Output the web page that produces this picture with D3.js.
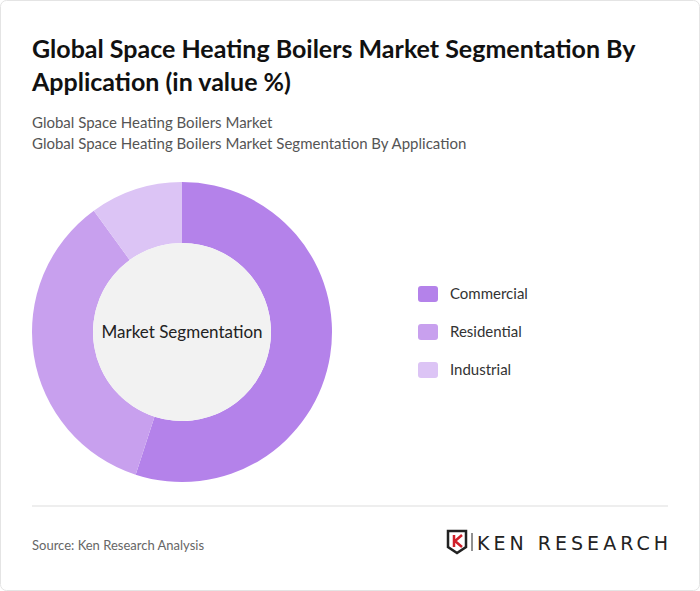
<!DOCTYPE html><html><head><meta charset="utf-8"><script src="https://cdn.jsdelivr.net/npm/d3@7"></script>
<style>body{margin:0;background:#fff;font-family:Lato,sans-serif}</style></head><body><svg id="c" width="700" height="591"></svg>
<script>
const categories=["Commercial","Residential","Industrial"];
const values=[55,35,10];
const colors=["#b482ea","#c8a0ee","#dcc4f5"];
const svg=d3.select("#c");
svg.append("rect").attr("x",0.5).attr("y",0.5).attr("width",699).attr("height",590).attr("rx",6).attr("fill","#fff").attr("stroke","#e4e4e4");
svg.append("text").attr("x",32).attr("y",58).attr("font-size",25).attr("font-weight",700).attr("fill","#111").text("Global Space Heating Boilers Market Segmentation By");
svg.append("text").attr("x",32).attr("y",91).attr("font-size",25).attr("font-weight",700).attr("fill","#111").text("Application (in value %)");
svg.append("text").attr("x",32).attr("y",128).attr("font-size",15).attr("fill","#555").text("Global Space Heating Boilers Market");
svg.append("text").attr("x",32).attr("y",149).attr("font-size",15).attr("fill","#555").text("Global Space Heating Boilers Market Segmentation By Application");
const g=svg.append("g").attr("transform","translate(182,332)");
const pie=d3.pie().sort(null)(values);
const arc=d3.arc().innerRadius(89).outerRadius(150);
g.selectAll("path").data(pie).join("path").attr("d",arc).attr("fill",(d,i)=>colors[i]);
g.append("circle").attr("r",89).attr("fill","#f2f2f2");
g.append("text").attr("text-anchor","middle").attr("dy",6).attr("font-size",17).attr("fill","#222").text("Market Segmentation");
const lg=svg.append("g");
categories.forEach((c,i)=>{const y=294+i*38;
lg.append("rect").attr("x",418).attr("y",y-8).attr("width",20).attr("height",16).attr("rx",3).attr("fill",colors[i]);
lg.append("text").attr("x",450).attr("y",y+5).attr("font-size",15).attr("fill","#333").text(c);});
svg.append("line").attr("x1",32).attr("x2",668).attr("y1",506).attr("y2",506).attr("stroke","#ddd");
svg.append("text").attr("x",32).attr("y",550).attr("font-size",13).attr("fill","#666").text("Source: Ken Research Analysis");
const lo=svg.append("g").attr("transform","translate(448,531)");
lo.append("path").attr("d","M0,0 H18 V16 L9,22 L0,16 Z").attr("fill","none").attr("stroke","#222").attr("stroke-width",2.5);
lo.append("path").attr("d","M6,4 V16 M14,4 L7,10 L14,16").attr("fill","none").attr("stroke","#d0202a").attr("stroke-width",2.5);
lo.append("line").attr("x1",24).attr("x2",24).attr("y1",2).attr("y2",20).attr("stroke","#222");
lo.append("text").attr("x",29).attr("y",19).attr("font-size",19).attr("font-family","DejaVu Sans").attr("fill","#222").attr("textLength",191).text("KEN RESEARCH");
</script></body></html>
